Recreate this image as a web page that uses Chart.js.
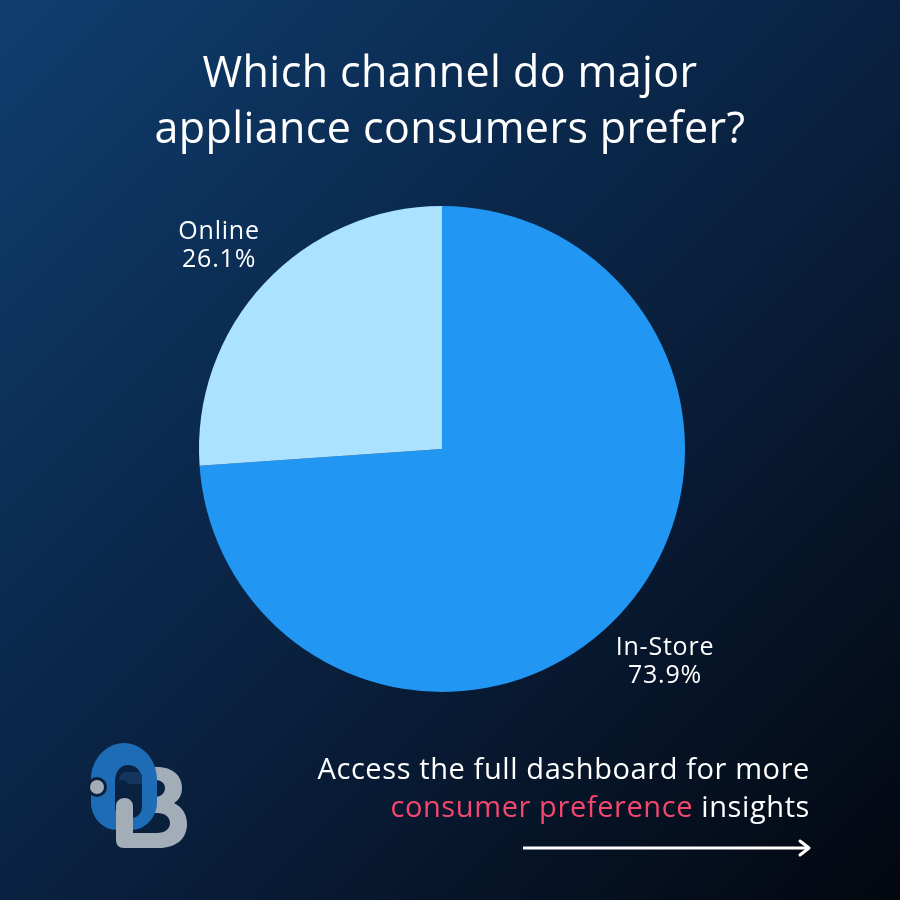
<!DOCTYPE html>
<html><head><meta charset="utf-8">
<script src="https://cdn.jsdelivr.net/npm/chart.js@4.4.1/dist/chart.umd.min.js"></script>
<style>
html,body{margin:0;padding:0;}
body{width:900px;height:900px;position:relative;overflow:hidden;
 background:linear-gradient(135deg,#0f3e6f 0%,#0b2a4f 35%,#081a33 65%,#03070f 100%);
 font-family:"Open Sans",sans-serif;color:#fff;}
#wrap{position:absolute;left:0;top:0;width:900px;height:900px;}
.title{position:absolute;left:0;width:900px;text-align:center;font-size:43px;line-height:56px;top:43px;font-weight:400;letter-spacing:0.4px;}
.foot{position:absolute;right:90px;top:749px;text-align:right;font-size:29px;line-height:38px;letter-spacing:0.6px;}
.pink{color:#f4476f;}
.arrow{position:absolute;left:523px;top:838px;}
.logo{position:absolute;left:85px;top:740px;}
</style></head>
<body>
<div id="wrap"><canvas id="c" width="900" height="900"></canvas></div>
<div class="title">Which channel do major<br>appliance consumers prefer?</div>
<div class="foot">Access the full dashboard for more<br><span class="pink">consumer preference</span> insights</div>
<svg class="arrow" width="300" height="20"><line x1="0" y1="10" x2="285" y2="10" stroke="#fff" stroke-width="3"/><polyline points="277,3 286,10 277,17" fill="none" stroke="#fff" stroke-width="3" stroke-linecap="round" stroke-linejoin="round"/></svg>
<svg class="logo" width="120" height="120" viewBox="0 0 120 120">
 <path d="M66 27 L72 27 C88 27 97 36 97 48 C97 55 94 60 89 63 C97 67 102 74 102 84 C102 99 91 108 74 108 L60 108 L60 93 L72 93 C80 93 85 89 85 83 C85 77 80 73 72 73 L62 73 L62 57 L70 57 C76 57 80 53 80 48 C80 43 76 40 70 40 L66 40 Z" fill="#a3adb8"/>
 <path d="M6 40 C6 18 22 3 39 3 C56 3 72 18 72 40 L72 62 C72 78 60 90 46 90 L32 90 C18 90 6 78 6 62 Z M30 42 L30 66 C30 74 34 78 40 78 L46 78 C52 78 57 74 57 66 L57 42 C57 32 52 25 43 25 C35 25 30 32 30 42 Z" fill="#1e6cb5" fill-rule="evenodd"/>
 <path d="M34 40 C34 35 37 32 42 32 L52 32 C55 32 57 34 57 37 L57 44 L46 44 C43 44 41 43 41 41 Z" fill="#13355e"/>
 <circle cx="12" cy="47" r="8.5" fill="#a3adb8" stroke="#0a1f3c" stroke-width="3"/>
 <path d="M31 66 C31 61 35 58 39.5 58 C44 58 48 61 48 66 L48 93 L66 93 L66 108 L39 108 C34 108 31 105 31 100 Z" fill="#a3adb8"/>
</svg>
<script>
const categories = ['In-Store', 'Online'];
const shares = [73.9, 26.1];
const sliceColors = ['#2196F3', '#AAE2FF'];

const outLabels = {
  id: 'outLabels',
  afterDatasetsDraw(chart) {
    const ctx = chart.ctx;
    const meta = chart.getDatasetMeta(0);
    ctx.save();
    ctx.fillStyle = '#ffffff';
    ctx.font = '25px "Open Sans", sans-serif';
    if ('letterSpacing' in ctx) ctx.letterSpacing = '0.8px';
    ctx.textAlign = 'center';
    ctx.textBaseline = 'middle';
    meta.data.forEach((arc, i) => {
      const mid = (arc.startAngle + arc.endAngle) / 2;
      const r = arc.outerRadius * 1.255;
      const x = arc.x + Math.cos(mid) * r;
      const y = arc.y + Math.sin(mid) * r;
      ctx.fillText(categories[i], x, y - 9);
      ctx.fillText(shares[i].toFixed(1) + '%', x, y + 19);
    });
    ctx.restore();
  }
};

new Chart(document.getElementById('c'), {
  type: 'pie',
  data: { labels: categories, datasets: [{ data: shares, backgroundColor: sliceColors, borderWidth: 0 }] },
  options: {
    responsive: false, animation: false,
    layout: { padding: { left: 199, right: 215, top: 206, bottom: 208 } },
    plugins: { legend: { display: false }, tooltip: { enabled: false } }
  },
  plugins: [outLabels]
});
</script>
</body></html>
